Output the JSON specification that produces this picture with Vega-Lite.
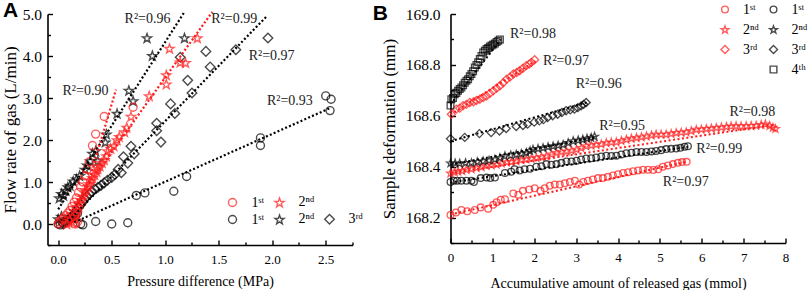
{
  "$schema": "https://vega.github.io/schema/vega-lite/v6.json",
  "background": "white",
  "padding": {"left": 0.5, "top": 0, "right": 2, "bottom": 0},
  "spacing": 9,
  "resolve": {"scale": {"shape": "independent", "x": "independent", "y": "independent"}, "legend": {"shape": "independent"}},
  "config": {
    "view": {"stroke": null},
    "font": "Liberation Serif",
    "axis": {"domainColor": "black", "domainWidth": 1.6, "tickColor": "black", "tickWidth": 1.4, "labelColor": "black", "titleColor": "black", "labelFont": "Liberation Serif", "titleFont": "Liberation Serif", "titleFontWeight": "normal", "grid": false, "labelFlush": false, "labelOverlap": false, "labelBound": false},
    "legend": {"labelFont": "Liberation Serif", "labelColor": "black", "labelFontSize": 14, "symbolStrokeWidth": 1.4, "symbolFillColor": "transparent", "padding": 0, "title": null}
  },
  "datasets": {
    "ptsA": [
      {"s":"b1","x":0.0,"y":0.0},{"s":"b1","x":0.02,"y":-0.02},{"s":"b1","x":0.04,"y":0.03},{"s":"b1","x":0.06,"y":0.05},{"s":"b1","x":0.08,"y":0.07},{"s":"b1","x":0.1,"y":0.1},{"s":"b1","x":0.12,"y":0.13},{"s":"b1","x":0.14,"y":0.16},{"s":"b1","x":0.16,"y":0.2},{"s":"b1","x":0.18,"y":0.25},{"s":"b1","x":0.21,"y":0.0},{"s":"b1","x":0.23,"y":-0.02},{"s":"b1","x":0.35,"y":0.06},{"s":"b1","x":0.5,"y":0.0},{"s":"b1","x":0.65,"y":0.03},{"s":"b1","x":0.73,"y":0.68},{"s":"b1","x":0.81,"y":0.74},{"s":"b1","x":1.08,"y":0.78},{"s":"b1","x":1.2,"y":1.13},{"s":"b1","x":1.89,"y":2.05},{"s":"b1","x":1.89,"y":1.87},{"s":"b1","x":2.5,"y":3.05},{"s":"b1","x":2.55,"y":2.97},{"s":"b1","x":2.54,"y":2.7},
      {"s":"b3","x":0.05,"y":0.0},{"s":"b3","x":0.07,"y":0.05},{"s":"b3","x":0.09,"y":0.09},{"s":"b3","x":0.11,"y":0.14},{"s":"b3","x":0.13,"y":0.19},{"s":"b3","x":0.15,"y":0.25},{"s":"b3","x":0.17,"y":0.32},{"s":"b3","x":0.19,"y":0.39},{"s":"b3","x":0.21,"y":0.46},{"s":"b3","x":0.23,"y":0.53},{"s":"b3","x":0.25,"y":0.6},{"s":"b3","x":0.27,"y":0.66},{"s":"b3","x":0.29,"y":0.71},{"s":"b3","x":0.31,"y":0.76},{"s":"b3","x":0.34,"y":0.83},{"s":"b3","x":0.37,"y":0.87},{"s":"b3","x":0.4,"y":0.92},{"s":"b3","x":0.43,"y":0.98},{"s":"b3","x":0.46,"y":1.04},{"s":"b3","x":0.5,"y":1.11},{"s":"b3","x":0.53,"y":1.18},{"s":"b3","x":0.56,"y":1.3},{"s":"b3","x":0.59,"y":1.22},{"s":"b3","x":0.61,"y":1.6},{"s":"b3","x":0.65,"y":1.45},{"s":"b3","x":0.68,"y":1.85},{"s":"b3","x":0.71,"y":1.67},{"s":"b3","x":0.92,"y":2.4},{"s":"b3","x":0.92,"y":2.22},{"s":"b3","x":0.96,"y":1.95},{"s":"b3","x":1.05,"y":2.86},{"s":"b3","x":1.09,"y":2.63},{"s":"b3","x":1.14,"y":3.97},{"s":"b3","x":1.21,"y":3.42},{"s":"b3","x":1.25,"y":3.12},{"s":"b3","x":1.38,"y":4.11},{"s":"b3","x":1.42,"y":3.74},{"s":"b3","x":1.66,"y":4.15},{"s":"b3","x":1.96,"y":4.43},
      {"s":"b2","x":0.0,"y":0.12},{"s":"b2","x":0.03,"y":0.18},{"s":"b2","x":0.01,"y":0.62},{"s":"b2","x":0.03,"y":0.72},{"s":"b2","x":0.05,"y":0.68},{"s":"b2","x":0.07,"y":0.8},{"s":"b2","x":0.09,"y":0.88},{"s":"b2","x":0.11,"y":0.92},{"s":"b2","x":0.14,"y":1.02},{"s":"b2","x":0.17,"y":1.07},{"s":"b2","x":0.2,"y":1.15},{"s":"b2","x":0.25,"y":1.3},{"s":"b2","x":0.27,"y":1.4},{"s":"b2","x":0.3,"y":1.5},{"s":"b2","x":0.32,"y":1.68},{"s":"b2","x":0.35,"y":1.74},{"s":"b2","x":0.37,"y":1.5},{"s":"b2","x":0.44,"y":1.95},{"s":"b2","x":0.45,"y":2.14},{"s":"b2","x":0.55,"y":2.63},{"s":"b2","x":0.66,"y":3.18},{"s":"b2","x":0.7,"y":2.93},{"s":"b2","x":0.83,"y":4.43},{"s":"b2","x":0.88,"y":4.01},{"s":"b2","x":1.18,"y":4.43},
      {"s":"r1","x":0.0,"y":0.0},{"s":"r1","x":0.01,"y":0.05},{"s":"r1","x":0.03,"y":0.1},{"s":"r1","x":0.05,"y":0.14},{"s":"r1","x":0.07,"y":0.2},{"s":"r1","x":0.09,"y":0.26},{"s":"r1","x":0.11,"y":0.32},{"s":"r1","x":0.13,"y":0.42},{"s":"r1","x":0.15,"y":0.52},{"s":"r1","x":0.17,"y":0.62},{"s":"r1","x":0.19,"y":0.75},{"s":"r1","x":0.21,"y":0.88},{"s":"r1","x":0.23,"y":1.0},{"s":"r1","x":0.25,"y":1.15},{"s":"r1","x":0.27,"y":1.3},{"s":"r1","x":0.29,"y":1.48},{"s":"r1","x":0.32,"y":1.87},{"s":"r1","x":0.35,"y":2.14},{"s":"r1","x":0.43,"y":2.56},{"s":"r1","x":0.7,"y":2.78},{"s":"r1","x":0.16,"y":0.0},{"s":"r1","x":0.18,"y":0.05},
      {"s":"r2","x":0.08,"y":0.0},{"s":"r2","x":0.1,"y":0.03},{"s":"r2","x":0.12,"y":0.06},{"s":"r2","x":0.14,"y":0.12},{"s":"r2","x":0.15,"y":0.18},{"s":"r2","x":0.17,"y":0.26},{"s":"r2","x":0.18,"y":0.34},{"s":"r2","x":0.19,"y":0.42},{"s":"r2","x":0.2,"y":0.5},{"s":"r2","x":0.22,"y":0.58},{"s":"r2","x":0.23,"y":0.66},{"s":"r2","x":0.25,"y":0.74},{"s":"r2","x":0.26,"y":0.82},{"s":"r2","x":0.28,"y":0.9},{"s":"r2","x":0.29,"y":0.96},{"s":"r2","x":0.31,"y":1.04},{"s":"r2","x":0.32,"y":1.1},{"s":"r2","x":0.34,"y":1.18},{"s":"r2","x":0.36,"y":1.25},{"s":"r2","x":0.37,"y":1.32},{"s":"r2","x":0.39,"y":1.38},{"s":"r2","x":0.41,"y":1.46},{"s":"r2","x":0.43,"y":1.53},{"s":"r2","x":0.45,"y":1.62},{"s":"r2","x":0.46,"y":1.74},{"s":"r2","x":0.49,"y":1.8},{"s":"r2","x":0.52,"y":1.86},{"s":"r2","x":0.55,"y":2.0},{"s":"r2","x":0.57,"y":2.08},{"s":"r2","x":0.62,"y":2.19},{"s":"r2","x":0.64,"y":2.3},{"s":"r2","x":0.68,"y":2.56},{"s":"r2","x":0.85,"y":3.05},{"s":"r2","x":1.01,"y":3.33},{"s":"r2","x":1.01,"y":3.55},{"s":"r2","x":1.04,"y":4.18},{"s":"r2","x":1.14,"y":3.85},{"s":"r2","x":1.19,"y":3.84},{"s":"r2","x":1.3,"y":4.43}
    ],
    "fitA": [
      {"id":"r1","col":"r","x":0.16,"y":-0.08},{"id":"r1","col":"r","x":0.54,"y":3.2},
      {"id":"r2","col":"r","x":0.06,"y":0.15},{"id":"r2","col":"r","x":1.44,"y":5.05},
      {"id":"b2","col":"k","x":0.0,"y":0.35},{"id":"b2","col":"k","x":1.18,"y":5.05},
      {"id":"b3","col":"k","x":0.1,"y":0.08},{"id":"b3","col":"k","x":1.95,"y":4.95},
      {"id":"b1","col":"k","x":0.15,"y":0.04},{"id":"b1","col":"k","x":2.54,"y":2.76}
    ],
    "txtA": [
      {"x":0.04,"y":3.16,"t":"R²=0.90"},
      {"x":0.62,"y":4.87,"t":"R²=0.96"},
      {"x":1.43,"y":4.87,"t":"R²=0.99"},
      {"x":1.78,"y":3.99,"t":"R²=0.97"},
      {"x":1.95,"y":2.92,"t":"R²=0.93"}
    ],
    "labA": [{"x": -0.516, "y": 4.92, "t": "A"}],
    "labB": [{"x": -1.854, "y": 168.976, "t": "B"}],
    "ptsB": [
      {"s":"r1","x":0.0,"y":168.21},{"s":"r1","x":0.13,"y":168.22},{"s":"r1","x":0.26,"y":168.23},{"s":"r1","x":0.4,"y":168.225},{"s":"r1","x":0.58,"y":168.23},{"s":"r1","x":0.72,"y":168.24},{"s":"r1","x":0.9,"y":168.235},{"s":"r1","x":1.02,"y":168.25},{"s":"r1","x":1.1,"y":168.26},{"s":"r1","x":1.2,"y":168.27},{"s":"r1","x":1.3,"y":168.272},{"s":"r1","x":1.5,"y":168.295},{"s":"r1","x":1.62,"y":168.29},{"s":"r1","x":1.73,"y":168.305},{"s":"r1","x":1.88,"y":168.31},{"s":"r1","x":2.01,"y":168.315},{"s":"r1","x":2.15,"y":168.305},{"s":"r1","x":2.25,"y":168.315},{"s":"r1","x":2.37,"y":168.325},{"s":"r1","x":2.49,"y":168.33},{"s":"r1","x":2.61,"y":168.33},{"s":"r1","x":2.73,"y":168.335},{"s":"r1","x":2.85,"y":168.34},{"s":"r1","x":2.97,"y":168.345},{"s":"r1","x":3.07,"y":168.33},{"s":"r1","x":3.17,"y":168.34},{"s":"r1","x":3.28,"y":168.345},{"s":"r1","x":3.4,"y":168.35},{"s":"r1","x":3.52,"y":168.355},{"s":"r1","x":3.64,"y":168.355},{"s":"r1","x":3.76,"y":168.36},{"s":"r1","x":3.88,"y":168.365},{"s":"r1","x":4.0,"y":168.37},{"s":"r1","x":4.12,"y":168.375},{"s":"r1","x":4.24,"y":168.378},{"s":"r1","x":4.36,"y":168.382},{"s":"r1","x":4.48,"y":168.385},{"s":"r1","x":4.6,"y":168.388},{"s":"r1","x":4.72,"y":168.388},{"s":"r1","x":4.84,"y":168.387},{"s":"r1","x":4.96,"y":168.39},{"s":"r1","x":5.07,"y":168.4},{"s":"r1","x":5.19,"y":168.405},{"s":"r1","x":5.31,"y":168.41},{"s":"r1","x":5.43,"y":168.415},{"s":"r1","x":5.53,"y":168.418},{"s":"r1","x":5.64,"y":168.419},
      {"s":"r2","x":0.0,"y":168.375},{"s":"r2","x":0.1,"y":168.38},{"s":"r2","x":0.18,"y":168.383},{"s":"r2","x":0.28,"y":168.385},{"s":"r2","x":0.38,"y":168.39},{"s":"r2","x":0.5,"y":168.392},{"s":"r2","x":0.62,"y":168.397},{"s":"r2","x":0.74,"y":168.4},{"s":"r2","x":0.86,"y":168.406},{"s":"r2","x":0.98,"y":168.408},{"s":"r2","x":1.1,"y":168.41},{"s":"r2","x":1.22,"y":168.415},{"s":"r2","x":1.34,"y":168.419},{"s":"r2","x":1.45,"y":168.42},{"s":"r2","x":1.57,"y":168.423},{"s":"r2","x":1.69,"y":168.428},{"s":"r2","x":1.81,"y":168.43},{"s":"r2","x":1.93,"y":168.433},{"s":"r2","x":2.05,"y":168.436},{"s":"r2","x":2.17,"y":168.44},{"s":"r2","x":2.29,"y":168.443},{"s":"r2","x":2.41,"y":168.45},{"s":"r2","x":2.53,"y":168.456},{"s":"r2","x":2.65,"y":168.46},{"s":"r2","x":2.77,"y":168.462},{"s":"r2","x":2.89,"y":168.465},{"s":"r2","x":3.01,"y":168.469},{"s":"r2","x":3.12,"y":168.475},{"s":"r2","x":3.24,"y":168.482},{"s":"r2","x":3.36,"y":168.485},{"s":"r2","x":3.48,"y":168.488},{"s":"r2","x":3.6,"y":168.49},{"s":"r2","x":3.72,"y":168.495},{"s":"r2","x":3.84,"y":168.497},{"s":"r2","x":3.96,"y":168.498},{"s":"r2","x":4.08,"y":168.503},{"s":"r2","x":4.2,"y":168.508},{"s":"r2","x":4.32,"y":168.512},{"s":"r2","x":4.44,"y":168.515},{"s":"r2","x":4.56,"y":168.518},{"s":"r2","x":4.68,"y":168.521},{"s":"r2","x":4.8,"y":168.525},{"s":"r2","x":4.91,"y":168.528},{"s":"r2","x":5.03,"y":168.528},{"s":"r2","x":5.15,"y":168.528},{"s":"r2","x":5.27,"y":168.531},{"s":"r2","x":5.39,"y":168.534},{"s":"r2","x":5.51,"y":168.536},{"s":"r2","x":5.63,"y":168.537},{"s":"r2","x":5.75,"y":168.542},{"s":"r2","x":5.87,"y":168.547},{"s":"r2","x":5.99,"y":168.548},{"s":"r2","x":6.11,"y":168.55},{"s":"r2","x":6.23,"y":168.552},{"s":"r2","x":6.35,"y":168.554},{"s":"r2","x":6.47,"y":168.556},{"s":"r2","x":6.59,"y":168.558},{"s":"r2","x":6.7,"y":168.56},{"s":"r2","x":6.82,"y":168.561},{"s":"r2","x":6.94,"y":168.56},{"s":"r2","x":7.06,"y":168.561},{"s":"r2","x":7.18,"y":168.562},{"s":"r2","x":7.3,"y":168.563},{"s":"r2","x":7.42,"y":168.566},{"s":"r2","x":7.52,"y":168.568},{"s":"r2","x":7.62,"y":168.562},{"s":"r2","x":7.7,"y":168.555},{"s":"r2","x":7.76,"y":168.55},
      {"s":"r3","x":0.02,"y":168.606},{"s":"r3","x":0.14,"y":168.626},{"s":"r3","x":0.22,"y":168.63},{"s":"r3","x":0.3,"y":168.64},{"s":"r3","x":0.38,"y":168.645},{"s":"r3","x":0.46,"y":168.652},{"s":"r3","x":0.55,"y":168.655},{"s":"r3","x":0.62,"y":168.66},{"s":"r3","x":0.7,"y":168.665},{"s":"r3","x":0.78,"y":168.672},{"s":"r3","x":0.86,"y":168.678},{"s":"r3","x":0.94,"y":168.688},{"s":"r3","x":1.02,"y":168.698},{"s":"r3","x":1.1,"y":168.708},{"s":"r3","x":1.18,"y":168.718},{"s":"r3","x":1.26,"y":168.73},{"s":"r3","x":1.34,"y":168.744},{"s":"r3","x":1.42,"y":168.752},{"s":"r3","x":1.5,"y":168.764},{"s":"r3","x":1.58,"y":168.77},{"s":"r3","x":1.65,"y":168.777},{"s":"r3","x":1.73,"y":168.787},{"s":"r3","x":1.81,"y":168.797},{"s":"r3","x":1.88,"y":168.803},{"s":"r3","x":1.93,"y":168.81},{"s":"r3","x":2.01,"y":168.82},
      {"s":"b1","x":0.0,"y":168.34},{"s":"b1","x":0.08,"y":168.345},{"s":"b1","x":0.16,"y":168.345},{"s":"b1","x":0.26,"y":168.345},{"s":"b1","x":0.38,"y":168.345},{"s":"b1","x":0.5,"y":168.345},{"s":"b1","x":0.56,"y":168.34},{"s":"b1","x":0.72,"y":168.355},{"s":"b1","x":0.86,"y":168.357},{"s":"b1","x":0.95,"y":168.355},{"s":"b1","x":1.06,"y":168.357},{"s":"b1","x":1.3,"y":168.375},{"s":"b1","x":1.45,"y":168.38},{"s":"b1","x":1.53,"y":168.39},{"s":"b1","x":1.65,"y":168.385},{"s":"b1","x":1.77,"y":168.39},{"s":"b1","x":1.9,"y":168.392},{"s":"b1","x":2.05,"y":168.4},{"s":"b1","x":2.17,"y":168.402},{"s":"b1","x":2.29,"y":168.41},{"s":"b1","x":2.41,"y":168.408},{"s":"b1","x":2.53,"y":168.41},{"s":"b1","x":2.65,"y":168.415},{"s":"b1","x":2.77,"y":168.42},{"s":"b1","x":2.89,"y":168.42},{"s":"b1","x":3.01,"y":168.423},{"s":"b1","x":3.12,"y":168.428},{"s":"b1","x":3.24,"y":168.432},{"s":"b1","x":3.36,"y":168.433},{"s":"b1","x":3.48,"y":168.436},{"s":"b1","x":3.6,"y":168.44},{"s":"b1","x":3.72,"y":168.443},{"s":"b1","x":3.84,"y":168.442},{"s":"b1","x":3.96,"y":168.443},{"s":"b1","x":4.08,"y":168.448},{"s":"b1","x":4.2,"y":168.453},{"s":"b1","x":4.32,"y":168.455},{"s":"b1","x":4.44,"y":168.458},{"s":"b1","x":4.56,"y":168.458},{"s":"b1","x":4.68,"y":168.458},{"s":"b1","x":4.8,"y":168.46},{"s":"b1","x":4.91,"y":168.462},{"s":"b1","x":5.03,"y":168.465},{"s":"b1","x":5.15,"y":168.469},{"s":"b1","x":5.27,"y":168.47},{"s":"b1","x":5.39,"y":168.471},{"s":"b1","x":5.49,"y":168.474},{"s":"b1","x":5.59,"y":168.478},{"s":"b1","x":5.67,"y":168.48},
      {"s":"b2","x":0.0,"y":168.415},{"s":"b2","x":0.11,"y":168.415},{"s":"b2","x":0.22,"y":168.414},{"s":"b2","x":0.36,"y":168.416},{"s":"b2","x":0.5,"y":168.416},{"s":"b2","x":0.64,"y":168.42},{"s":"b2","x":0.78,"y":168.423},{"s":"b2","x":0.92,"y":168.426},{"s":"b2","x":1.06,"y":168.43},{"s":"b2","x":1.18,"y":168.436},{"s":"b2","x":1.3,"y":168.443},{"s":"b2","x":1.44,"y":168.446},{"s":"b2","x":1.57,"y":168.449},{"s":"b2","x":1.69,"y":168.452},{"s":"b2","x":1.81,"y":168.456},{"s":"b2","x":1.9,"y":168.463},{"s":"b2","x":1.97,"y":168.469},{"s":"b2","x":2.09,"y":168.472},{"s":"b2","x":2.21,"y":168.475},{"s":"b2","x":2.33,"y":168.479},{"s":"b2","x":2.45,"y":168.482},{"s":"b2","x":2.57,"y":168.485},{"s":"b2","x":2.69,"y":168.488},{"s":"b2","x":2.81,"y":168.495},{"s":"b2","x":2.93,"y":168.502},{"s":"b2","x":3.05,"y":168.505},{"s":"b2","x":3.16,"y":168.508},{"s":"b2","x":3.26,"y":168.512},{"s":"b2","x":3.36,"y":168.515},{"s":"b2","x":3.44,"y":168.52},
      {"s":"b3","x":0.0,"y":168.51},{"s":"b3","x":0.34,"y":168.515},{"s":"b3","x":0.69,"y":168.53},{"s":"b3","x":0.97,"y":168.534},{"s":"b3","x":1.17,"y":168.54},{"s":"b3","x":1.33,"y":168.55},{"s":"b3","x":1.57,"y":168.558},{"s":"b3","x":1.73,"y":168.562},{"s":"b3","x":1.84,"y":168.567},{"s":"b3","x":2.0,"y":168.575},{"s":"b3","x":2.12,"y":168.58},{"s":"b3","x":2.22,"y":168.585},{"s":"b3","x":2.32,"y":168.593},{"s":"b3","x":2.44,"y":168.6},{"s":"b3","x":2.56,"y":168.606},{"s":"b3","x":2.66,"y":168.613},{"s":"b3","x":2.76,"y":168.62},{"s":"b3","x":2.86,"y":168.623},{"s":"b3","x":2.96,"y":168.626},{"s":"b3","x":3.04,"y":168.632},{"s":"b3","x":3.12,"y":168.639},{"s":"b3","x":3.18,"y":168.645},{"s":"b3","x":3.24,"y":168.652},
      {"s":"b4","x":0.0,"y":168.64},{"s":"b4","x":0.02,"y":168.665},{"s":"b4","x":0.06,"y":168.67},{"s":"b4","x":0.1,"y":168.685},{"s":"b4","x":0.14,"y":168.69},{"s":"b4","x":0.18,"y":168.698},{"s":"b4","x":0.22,"y":168.705},{"s":"b4","x":0.26,"y":168.711},{"s":"b4","x":0.3,"y":168.72},{"s":"b4","x":0.34,"y":168.73},{"s":"b4","x":0.38,"y":168.738},{"s":"b4","x":0.42,"y":168.744},{"s":"b4","x":0.46,"y":168.755},{"s":"b4","x":0.5,"y":168.764},{"s":"b4","x":0.54,"y":168.775},{"s":"b4","x":0.58,"y":168.79},{"s":"b4","x":0.62,"y":168.8},{"s":"b4","x":0.66,"y":168.81},{"s":"b4","x":0.7,"y":168.823},{"s":"b4","x":0.74,"y":168.835},{"s":"b4","x":0.78,"y":168.849},{"s":"b4","x":0.82,"y":168.856},{"s":"b4","x":0.86,"y":168.862},{"s":"b4","x":0.9,"y":168.866},{"s":"b4","x":0.94,"y":168.872},{"s":"b4","x":0.98,"y":168.876},{"s":"b4","x":1.02,"y":168.88},{"s":"b4","x":1.06,"y":168.884},{"s":"b4","x":1.1,"y":168.89},{"s":"b4","x":1.14,"y":168.895},{"s":"b4","x":1.18,"y":168.9}
    ],
    "fitB": [
      {"id":"r1","col":"r","x":0.0,"y":168.212},{"id":"r1","col":"r","x":5.65,"y":168.42},
      {"id":"r2","col":"r","x":0.0,"y":168.375},{"id":"r2","col":"r","x":7.75,"y":168.565},
      {"id":"r3","col":"r","x":0.0,"y":168.605},{"id":"r3","col":"r","x":2.03,"y":168.815},
      {"id":"b1","col":"k","x":0.0,"y":168.338},{"id":"b1","col":"k","x":5.67,"y":168.478},
      {"id":"b2","col":"k","x":0.0,"y":168.408},{"id":"b2","col":"k","x":3.45,"y":168.515},
      {"id":"b3","col":"k","x":0.0,"y":168.5},{"id":"b3","col":"k","x":3.25,"y":168.652},
      {"id":"b4","col":"k","x":0.0,"y":168.645},{"id":"b4","col":"k","x":1.2,"y":168.9}
    ],
    "txtB": [
      {"x":1.42,"y":168.92,"t":"R²=0.98"},
      {"x":2.21,"y":168.816,"t":"R²=0.97"},
      {"x":2.99,"y":168.725,"t":"R²=0.96"},
      {"x":3.55,"y":168.561,"t":"R²=0.95"},
      {"x":6.66,"y":168.613,"t":"R²=0.98"},
      {"x":5.87,"y":168.469,"t":"R²=0.99"},
      {"x":5.07,"y":168.338,"t":"R²=0.97"}
    ]
  },
  "hconcat": [
    {
      "width": 305,
      "height": 231,
      "resolve": {"axis": {"x": "independent", "y": "independent"}, "scale": {"shape": "independent"}, "legend": {"shape": "independent"}},
      "layer": [
        {
          "data": {"name": "ptsA"},
          "transform": [{"filter": "substring(datum.s,0,1) == 'b'"}],
          "mark": {"type": "point", "filled": false, "strokeWidth": 1.4, "color": "black", "size": 64},
          "encoding": {
            "x": {"field": "x", "type": "quantitative", "scale": {"domain": [-0.1, 2.75], "nice": false, "zero": false},
              "axis": {"orient": "bottom", "title": "Pressure difference (MPa)", "titleFontSize": 14, "labelFontSize": 13, "ticks": false, "values": [0,0.5,1,1.5,2,2.5], "format": ".1f", "labelPadding": 8, "titlePadding": 8}},
            "y": {"field": "y", "type": "quantitative", "scale": {"domain": [-0.5, 5.0], "nice": false, "zero": false},
              "axis": {"orient": "left", "title": "Flow rate of gas (L/min)", "titleFontSize": 17, "labelFontSize": 15.5, "ticks": false, "values": [0,1,2,3,4,5], "format": ".1f", "labelPadding": 6, "titlePadding": 3}},
            "shape": {"field": "s", "type": "nominal", "scale": {"domain": ["b1","b2","b3"], "range": ["circle","M0,-1.085L0.282,-0.274L1.141,-0.256L0.456,0.264L0.706,1.086L0,0.595L-0.706,1.086L-0.456,0.264L-1.141,-0.256L-0.282,-0.274Z","M-1.2,0L0,-1.2L1.2,0L0,1.2Z"]},
              "legend": {"orient": "none", "legendX": 178, "legendY": 198, "direction": "horizontal", "symbolSize": 64, "symbolStrokeColor": "black", "labelOffset": 12, "columnPadding": 7, "labelFontSize": 14, "labelExpr": "datum.label == 'b1' ? '1ˢᵗ' : datum.label == 'b2' ? '2ⁿᵈ' : '3ʳᵈ'"}}
          }
        },
        {
          "data": {"name": "ptsA"},
          "transform": [{"filter": "substring(datum.s,0,1) == 'r'"}],
          "mark": {"type": "point", "filled": false, "strokeWidth": 1.4, "color": "#ff1a1a", "size": 64},
          "encoding": {
            "x": {"field": "x", "type": "quantitative", "axis": null},
            "y": {"field": "y", "type": "quantitative", "axis": null},
            "shape": {"field": "s", "type": "nominal", "scale": {"domain": ["r1","r2"], "range": ["circle","M0,-1.085L0.282,-0.274L1.141,-0.256L0.456,0.264L0.706,1.086L0,0.595L-0.706,1.086L-0.456,0.264L-1.141,-0.256L-0.282,-0.274Z"]},
              "legend": {"orient": "none", "legendX": 178, "legendY": 181, "direction": "horizontal", "symbolSize": 64, "symbolStrokeColor": "#ff1a1a", "labelOffset": 12, "columnPadding": 7, "labelFontSize": 14, "labelExpr": "datum.label == 'r1' ? '1ˢᵗ' : '2ⁿᵈ'"}}
          }
        },
        {
          "data": {"name": "fitA"},
          "transform": [{"filter": "datum.col == 'k'"}],
          "mark": {"type": "line", "color": "black", "strokeWidth": 2.2, "strokeDash": [2, 2.2]},
          "encoding": {
            "x": {"field": "x", "type": "quantitative", "axis": {"orient": "top", "offset": -231, "domain": false, "labels": false, "title": null, "tickSize": 5, "values": [0,0.25,0.5,0.75,1,1.25,1.5,1.75,2,2.25,2.5,2.75], "tickDash": {"condition": {"test": "abs(datum.value*2 - round(datum.value*2)) < 0.001", "value": [10, 0]}, "value": [3, 20]}}},
            "y": {"field": "y", "type": "quantitative", "axis": {"orient": "right", "offset": -305, "domain": false, "labels": false, "title": null, "tickSize": 5, "values": [-0.5,0,0.5,1,1.5,2,2.5,3,3.5,4,4.5,5], "tickDash": {"condition": {"test": "abs(datum.value - round(datum.value)) < 0.001", "value": [10, 0]}, "value": [3, 20]}}},
            "detail": {"field": "id"}
          }
        },
        {
          "data": {"name": "fitA"},
          "transform": [{"filter": "datum.col == 'r'"}],
          "mark": {"type": "line", "color": "#ff1a1a", "strokeWidth": 2.2, "strokeDash": [2, 2.2]},
          "encoding": {"x": {"field": "x", "type": "quantitative", "axis": null}, "y": {"field": "y", "type": "quantitative", "axis": null}, "detail": {"field": "id"}}
        },
        {
          "data": {"name": "txtA"},
          "mark": {"type": "text", "align": "left", "baseline": "middle", "fontSize": 14, "font": "Liberation Serif", "color": "#222"},
          "encoding": {"x": {"field": "x", "type": "quantitative", "axis": null}, "y": {"field": "y", "type": "quantitative", "axis": null}, "text": {"field": "t"}}
        },
        {
          "data": {"name": "labA"},
          "mark": {"type": "text", "align": "left", "baseline": "alphabetic", "fontSize": 21, "font": "Liberation Sans", "fontWeight": "bold", "color": "black"},
          "encoding": {"x": {"field": "x", "type": "quantitative", "axis": null}, "y": {"field": "y", "type": "quantitative", "axis": null}, "text": {"field": "t"}}
        }
      ]
    },
    {
      "width": 335,
      "height": 229,
      "resolve": {"axis": {"x": "independent", "y": "independent"}, "scale": {"shape": "independent"}, "legend": {"shape": "independent"}},
      "layer": [
        {
          "data": {"name": "ptsB"},
          "transform": [{"filter": "substring(datum.s,0,1) == 'r'"}],
          "mark": {"type": "point", "filled": false, "strokeWidth": 1.3, "color": "#ff1a1a", "size": 45},
          "encoding": {
            "x": {"field": "x", "type": "quantitative", "scale": {"domain": [0, 8], "nice": false, "zero": false},
              "axis": {"orient": "bottom", "title": "Accumulative amount of released gas (mmol)", "titleFontSize": 14, "labelFontSize": 13, "ticks": false, "values": [0,1,2,3,4,5,6,7,8], "format": "d", "labelPadding": 8, "titlePadding": 12}},
            "y": {"field": "y", "type": "quantitative", "scale": {"domain": [168.1, 169.0], "nice": false, "zero": false},
              "axis": {"orient": "left", "title": "Sample deformation (mm)", "titleFontSize": 17, "labelFontSize": 15.5, "ticks": false, "values": [168.2,168.4,168.6,168.8,169.0], "format": ".1f", "labelPadding": 10.5, "titlePadding": 7}},
            "shape": {"field": "s", "type": "nominal", "scale": {"domain": ["r1","r2","r3"], "range": ["circle","M0,-1.085L0.282,-0.274L1.141,-0.256L0.456,0.264L0.706,1.086L0,0.595L-0.706,1.086L-0.456,0.264L-1.141,-0.256L-0.282,-0.274Z","M-1.2,0L0,-1.2L1.2,0L0,1.2Z"]},
              "legend": {"orient": "none", "legendX": 267.5, "legendY": -11.5, "direction": "vertical", "symbolSize": 45, "symbolStrokeColor": "#ff1a1a", "labelOffset": 11, "rowPadding": 6, "labelFontSize": 14, "labelExpr": "datum.label == 'r1' ? '1ˢᵗ' : datum.label == 'r2' ? '2ⁿᵈ' : '3ʳᵈ'"}}
          }
        },
        {
          "data": {"name": "ptsB"},
          "transform": [{"filter": "substring(datum.s,0,1) == 'b'"}],
          "mark": {"type": "point", "filled": false, "strokeWidth": 1.3, "color": "black", "size": 45},
          "encoding": {
            "x": {"field": "x", "type": "quantitative", "axis": null},
            "y": {"field": "y", "type": "quantitative", "axis": null},
            "shape": {"field": "s", "type": "nominal", "scale": {"domain": ["b1","b2","b3","b4"], "range": ["circle","M0,-1.085L0.282,-0.274L1.141,-0.256L0.456,0.264L0.706,1.086L0,0.595L-0.706,1.086L-0.456,0.264L-1.141,-0.256L-0.282,-0.274Z","M-1.2,0L0,-1.2L1.2,0L0,1.2Z","square"]},
              "legend": {"orient": "none", "legendX": 316, "legendY": -11.5, "direction": "vertical", "symbolSize": 45, "symbolStrokeColor": "black", "labelOffset": 11, "rowPadding": 6, "labelFontSize": 14, "labelExpr": "datum.label == 'b1' ? '1ˢᵗ' : datum.label == 'b2' ? '2ⁿᵈ' : datum.label == 'b3' ? '3ʳᵈ' : '4ᵗʰ'"}}
          }
        },
        {
          "data": {"name": "fitB"},
          "transform": [{"filter": "datum.col == 'k'"}],
          "mark": {"type": "line", "color": "black", "strokeWidth": 2, "strokeDash": [2, 2.5]},
          "encoding": {
            "x": {"field": "x", "type": "quantitative", "axis": {"orient": "top", "offset": -229, "domain": false, "labels": false, "title": null, "tickSize": 5, "values": [0,0.5,1,1.5,2,2.5,3,3.5,4,4.5,5,5.5,6,6.5,7,7.5,8], "tickDash": {"condition": {"test": "abs(datum.value - round(datum.value)) < 0.001", "value": [10, 0]}, "value": [3, 20]}}},
            "y": {"field": "y", "type": "quantitative", "axis": {"orient": "right", "offset": -335, "domain": false, "labels": false, "title": null, "tickSize": 5, "values": [168.1,168.2,168.3,168.4,168.5,168.6,168.7,168.8,168.9,169.0], "tickDash": {"condition": {"test": "abs(datum.value*5 - round(datum.value*5)) < 0.001", "value": [10, 0]}, "value": [3, 20]}}},
            "detail": {"field": "id"}
          }
        },
        {
          "data": {"name": "fitB"},
          "transform": [{"filter": "datum.col == 'r'"}],
          "mark": {"type": "line", "color": "#ff1a1a", "strokeWidth": 2, "strokeDash": [2, 2.5]},
          "encoding": {"x": {"field": "x", "type": "quantitative", "axis": null}, "y": {"field": "y", "type": "quantitative", "axis": null}, "detail": {"field": "id"}}
        },
        {
          "data": {"name": "txtB"},
          "mark": {"type": "text", "align": "left", "baseline": "middle", "fontSize": 14, "font": "Liberation Serif", "color": "#222"},
          "encoding": {"x": {"field": "x", "type": "quantitative", "axis": null}, "y": {"field": "y", "type": "quantitative", "axis": null}, "text": {"field": "t"}}
        },
        {
          "data": {"name": "labB"},
          "mark": {"type": "text", "align": "left", "baseline": "alphabetic", "fontSize": 21, "font": "Liberation Sans", "fontWeight": "bold", "color": "black"},
          "encoding": {"x": {"field": "x", "type": "quantitative", "axis": null}, "y": {"field": "y", "type": "quantitative", "axis": null}, "text": {"field": "t"}}
        }
      ]
    }
  ]
}
